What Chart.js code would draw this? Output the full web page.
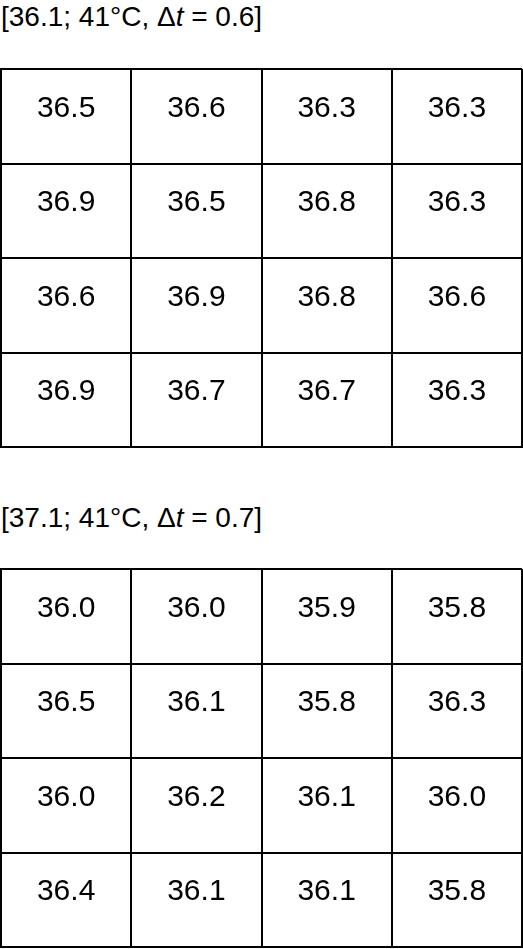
<!DOCTYPE html>
<html><head><meta charset="utf-8">
<script src="https://cdn.jsdelivr.net/npm/chart.js@4"></script>
<style>
body{margin:0;background:#fff;width:523px;height:949px;position:relative;overflow:hidden;font-family:"Liberation Sans",Arial,sans-serif}
.t{position:absolute;left:1px;font-size:28px;color:#000;line-height:32px}
.w{position:absolute;left:0;width:523px;height:380px}
</style></head><body>
<div class="t" style="top:1px">[36.1; 41°C, Δ<i>t</i> = 0.6]</div>
<div class="w" style="top:68px"><canvas id="c1"></canvas></div>
<div class="t" style="top:502px">[37.1; 41°C, Δ<i>t</i> = 0.7]</div>
<div class="w" style="top:568px"><canvas id="c2"></canvas></div>
<script>
const table1 = [
 [36.5,36.6,36.3,36.3],
 [36.9,36.5,36.8,36.3],
 [36.6,36.9,36.8,36.6],
 [36.9,36.7,36.7,36.3]];
const table2 = [
 [36.0,36.0,35.9,35.8],
 [36.5,36.1,35.8,36.3],
 [36.0,36.2,36.1,36.0],
 [36.4,36.1,36.1,35.8]];
const labelPlugin={id:'lbl',afterDatasetsDraw(ch){
  const ctx=ch.ctx;ctx.save();ctx.fillStyle='#000';ctx.font='30px "Liberation Sans", Arial, sans-serif';
  ctx.textAlign='center';ctx.textBaseline='middle';
  ch.getDatasetMeta(0).data.forEach((el,i)=>{
    const d=ch.data.datasets[0].data[i];ctx.fillText(d.v.toFixed(1),el.x,el.y-8);
  });ctx.restore();}};
function make(id,tbl){
  const pts=[];tbl.forEach((row,r)=>row.forEach((v,c)=>pts.push({x:c+0.5,y:r+0.5,v})));
  const ax={min:0,max:4,ticks:{display:false,stepSize:1},grid:{color:'#000',lineWidth:2,drawTicks:false},border:{color:'#000',width:2}};
  new Chart(document.getElementById(id),{type:'scatter',data:{datasets:[{data:pts,pointRadius:0}]},
    options:{responsive:true,maintainAspectRatio:false,animation:false,layout:{padding:1},
      plugins:{legend:{display:false},tooltip:{enabled:false}},
      scales:{x:{...ax},y:{...ax,reverse:true}}},plugins:[labelPlugin]});
}
make('c1',table1);make('c2',table2);
</script></body></html>
